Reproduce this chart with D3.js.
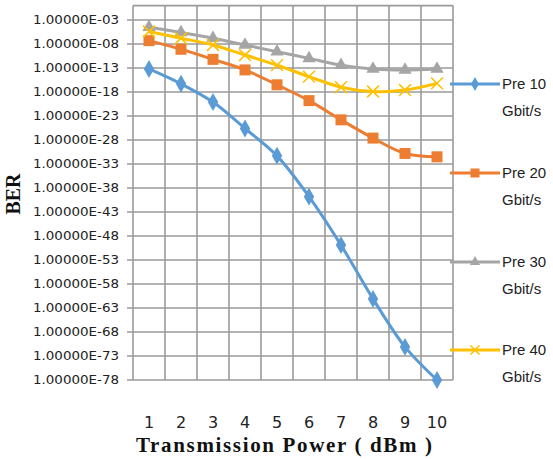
<!DOCTYPE html>
<html>
<head>
<meta charset="utf-8">
<script src="https://cdn.jsdelivr.net/npm/d3@7"></script>
<style>
  body { margin: 0; background: #fff; }
  svg { display: block; }
</style>
</head>
<body>
<div id="chart"></div>
<script>
// Transmission power (dBm) categories
const powers = [1, 2, 3, 4, 5, 6, 7, 8, 9, 10];
// BER exponents (value = 10^exp)
const pre10 = [-13.2, -16.3, -20.1, -25.6, -31.3, -39.8, -49.9, -61.1, -71.1, -78];
const pre20 = [-7.3, -9.1, -11.2, -13.4, -16.5, -19.8, -23.8, -27.6, -30.8, -31.5];
const pre30 = [-4.5, -5.6, -6.8, -8.2, -9.6, -11.0, -12.4, -13.2, -13.4, -13.2];
const pre40 = [-5.4, -6.8, -8.2, -10.3, -12.4, -14.8, -17.0, -17.9, -17.6, -16.2];
const seriesNames = ["Pre 10 Gbit/s", "Pre 20 Gbit/s", "Pre 30 Gbit/s", "Pre 40 Gbit/s"];
const yTickExps = d3.range(-3, -79, -5);

const W = 553, H = 459;
const plot = { left: 133, right: 453, top: 5.6, bottom: 380 };

const series = [
  { name: seriesNames[0], vals: pre10, color: "#5B9BD5", marker: "diamond" },
  { name: seriesNames[1], vals: pre20, color: "#ED7D31", marker: "square" },
  { name: seriesNames[2], vals: pre30, color: "#A5A5A5", marker: "triangle" },
  { name: seriesNames[3], vals: pre40, color: "#FFC000", marker: "cross" },
];

const svg = d3.select("#chart").append("svg")
  .attr("width", W).attr("height", H);

const x = d3.scaleBand().domain(powers).range([plot.left, plot.right]);
const y = d3.scaleLog().domain([1e-78, 1]).range([plot.bottom, plot.top]);

const gridColor = "#9a9a9a";

// horizontal grid + tick marks
svg.append("g").selectAll("line").data(yTickExps).join("line")
  .attr("x1", plot.left - 6).attr("x2", plot.right)
  .attr("y1", d => y(Math.pow(10, d))).attr("y2", d => y(Math.pow(10, d)))
  .attr("stroke", gridColor).attr("stroke-width", 1.6);

// vertical grid
const xEdges = powers.map(p => x(p)).concat([plot.right]);
svg.append("g").selectAll("line").data(xEdges).join("line")
  .attr("x1", d => d).attr("x2", d => d)
  .attr("y1", plot.top).attr("y2", plot.bottom)
  .attr("stroke", gridColor).attr("stroke-width", 1.6);

svg.append("line")
  .attr("x1", plot.left).attr("x2", plot.right)
  .attr("y1", plot.top).attr("y2", plot.top)
  .attr("stroke", gridColor).attr("stroke-width", 1.6);

// y tick labels
svg.append("g").selectAll("text").data(yTickExps).join("text")
  .attr("x", 119).attr("y", d => y(Math.pow(10, d)))
  .attr("dy", "0.35em")
  .attr("text-anchor", "end")
  .attr("font-family", "DejaVu Sans")
  .attr("font-size", 12)
  .attr("fill", "#222")
  .attr("textLength", 86).attr("lengthAdjust", "spacingAndGlyphs")
  .text(d => "1.00000E-" + String(-d).padStart(2, "0"));

// x tick labels
svg.append("g").selectAll("text").data(powers).join("text")
  .attr("x", d => x(d) + x.bandwidth() / 2).attr("y", 422)
  .attr("dy", "0.35em")
  .attr("text-anchor", "middle")
  .attr("font-family", "DejaVu Sans")
  .attr("font-size", 16)
  .attr("fill", "#222")
  .text(d => d);

// axis titles
svg.append("text")
  .attr("x", 284).attr("y", 445).attr("dy", "0.35em")
  .attr("text-anchor", "middle")
  .attr("font-family", "Liberation Serif").attr("font-weight", "bold")
  .attr("font-size", 21).attr("fill", "#111")
  .attr("textLength", 296).attr("lengthAdjust", "spacing")
  .text("Transmission Power ( dBm )");

svg.append("text")
  .attr("transform", "translate(13,194) rotate(-90)")
  .attr("dy", "0.35em")
  .attr("text-anchor", "middle")
  .attr("font-family", "Liberation Serif").attr("font-weight", "bold")
  .attr("font-size", 20).attr("fill", "#111")
  .text("BER");

function drawMarker(g, type, color, size) {
  if (type === "diamond") {
    g.append("path").attr("d", d3.symbol(d3.symbolDiamond, size * size * 0.55)())
      .attr("fill", color);
  } else if (type === "square") {
    g.append("rect").attr("x", -size / 2).attr("y", -size / 2)
      .attr("width", size).attr("height", size).attr("fill", color);
  } else if (type === "triangle") {
    g.append("path").attr("d", d3.symbol(d3.symbolTriangle, size * size * 0.45)())
      .attr("fill", color);
  } else {
    g.append("path").attr("d", d3.symbol(d3.symbolX, size * size * 0.55)())
      .attr("stroke", color).attr("stroke-width", 1.6).attr("fill", "none");
  }
}

const line = d3.line()
  .x((d, i) => x(powers[i]) + x.bandwidth() / 2)
  .y(d => y(Math.pow(10, d)))
  .curve(d3.curveCatmullRom.alpha(0.5));

// draw series (last on top like Excel order)
series.forEach(s => {
  svg.append("path").datum(s.vals)
    .attr("d", line)
    .attr("fill", "none").attr("stroke", s.color).attr("stroke-width", 3);
  s.vals.forEach((v, i) => {
    const g = svg.append("g")
      .attr("transform", `translate(${x(powers[i]) + x.bandwidth() / 2},${y(Math.pow(10, v))})`);
    drawMarker(g, s.marker, s.color, s.marker === "square" ? 11 : 13);
  });
});

// legend
const legendY = [84, 173, 262, 350];
series.forEach((s, i) => {
  const g = svg.append("g").attr("transform", `translate(450,${legendY[i]})`);
  g.append("line").attr("x1", 0).attr("x2", 50).attr("y1", 0).attr("y2", 0)
    .attr("stroke", s.color).attr("stroke-width", 3);
  const m = g.append("g").attr("transform", "translate(25,0)");
  drawMarker(m, s.marker, s.color, s.marker === "square" ? 9 : 10);
  const parts = s.name.split(" ");
  const t = g.append("text")
    .attr("font-family", "Liberation Sans").attr("font-size", 15)
    .attr("fill", "#222");
  t.append("tspan").attr("x", 52).attr("y", 5).text(parts[0] + " " + parts[1]);
  t.append("tspan").attr("x", 52).attr("y", 32).text(parts[2]);
});
</script>
</body>
</html>
